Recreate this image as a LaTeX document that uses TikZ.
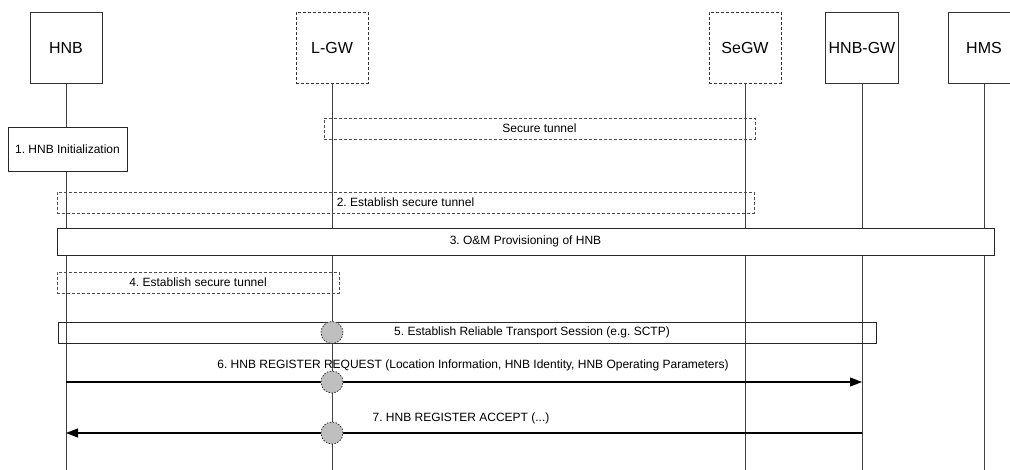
\documentclass[tikz,border=0pt]{standalone}
\usepackage{fontspec}
\setmainfont{Liberation Sans}
\usetikzlibrary{arrows.meta,positioning}

\begin{document}
\begin{tikzpicture}[
    x=1pt, y=-1pt,
    entity/.style={
        draw=black!80,
        line width=0.8pt,
        fill=white,
        minimum width=72pt,
        minimum height=71pt,
        font=\fontsize{16}{19}\selectfont},
    optentity/.style={
        entity,
        dash pattern=on 3pt off 2pt},
    lifeline/.style={
        draw=black!75,
        line width=0.8pt},
    procbox/.style={
        draw=black!85,
        line width=0.8pt,
        minimum height=21pt,
        inner sep=0pt,
        font=\fontsize{12}{14}\selectfont},
    tunnelbox/.style={
        procbox,
        draw=black!70,
        dash pattern=on 3pt off 2pt},
    msglabel/.style={
        inner sep=1pt,
        font=\fontsize{12}{14}\selectfont},
    msg/.style={
        line width=1.1pt,
        -{Triangle[length=12pt,width=9pt]}},
    junction/.style={
        circle,
        draw=black!80,
        line width=0.8pt,
        dash pattern=on 1.5pt off 1.5pt,
        fill=black!25,
        minimum size=22pt,
        inner sep=0pt},
  ]
  \useasboundingbox (0,0) rectangle (1010,470);
  \coordinate (bottom) at (0,470);
  % Entities
  \node[entity]    (hnb)   at (66,48)  {HNB};
  \node[optentity] (lgw)   at (332,48) {L-GW};
  \node[optentity] (segw)  at (745,48) {SeGW};
  \node[entity]    (hnbgw) at (862,48) {HNB-GW};
  \node[entity]    (hms)   at (984,48) {HMS};
  % Lifelines
  \draw[lifeline] (hnb)   -- (hnb |- bottom);
  \draw[lifeline] (lgw)   -- (lgw |- bottom);
  \draw[lifeline] (segw)  -- (segw |- bottom);
  \draw[lifeline] (hnbgw) -- (hnbgw |- bottom);
  \draw[lifeline] (hms)   -- (hms |- bottom);
  % Procedures
  \node[procbox, fill=white, minimum width=119pt, minimum height=44pt]
      (init) at (67.5,149) {1.\ HNB Initialization};
  \node[tunnelbox, minimum width=431pt] (tunnel) at (539.5,128.5) {Secure tunnel};
  \node[tunnelbox, minimum width=697pt] (tun2) at (405.5,202.5) {};
  \node[msglabel, fill=white, inner xsep=4pt, minimum height=19pt]
      (tun2lbl) at (tun2) {2.\ Establish secure tunnel};
  \node[procbox, fill=white, minimum width=937pt, minimum height=27pt]
      (oam) at (525.5,241.5) {3.\ O\&M Provisioning of HNB};
  \node[tunnelbox, minimum width=282pt] (tun4) at (198,282.5) {4.\ Establish secure tunnel};
  \node[procbox, minimum width=818pt] (sctp) at (467,332.5) {};
  \node[msglabel] (sctplbl) at (532,332.5) {5.\ Establish Reliable Transport Session (e.g.\ SCTP)};
  % Messages
  \coordinate (req) at (0,382);
  \coordinate (acc) at (0,433);
  \draw[msg] (hnb |- req) -- (hnbgw |- req);
  \node[msglabel] (reqlbl) at (473,365)
      {6.\ HNB REGISTER REQUEST (Location Information, HNB Identity, HNB Operating Parameters)};
  \draw[msg] (hnbgw |- acc) -- (hnb |- acc);
  \node[msglabel] (acclbl) at (461,418) {7.\ HNB REGISTER ACCEPT (...)};
  % L-GW junctions
  \node[junction] (j5) at (lgw |- sctp) {};
  \node[junction] (j6) at (lgw |- req)  {};
  \node[junction] (j7) at (lgw |- acc)  {};
\end{tikzpicture}
\end{document}
